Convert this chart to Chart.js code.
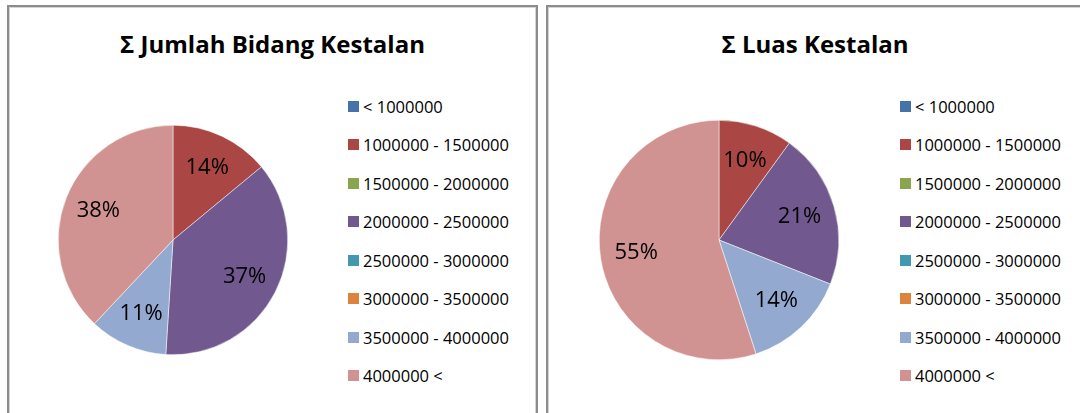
<!DOCTYPE html>
<html>
<head>
<meta charset="utf-8">
<script src="https://cdn.jsdelivr.net/npm/chart.js@4.4.1/dist/chart.umd.min.js"></script>
<style>
body { margin:0; width:1080px; height:413px; overflow:hidden; background:#fff; position:relative; font-family:'Open Sans', sans-serif; }
.panel { position:absolute; top:5px; height:440px; box-sizing:border-box; border:2px solid #8c8c8c; box-shadow:inset 0 0 0 1px #d4d4d4; }
#panelLeft { left:7px; width:531px; }
#panelRight { left:546px; width:538px; }
.title { position:absolute; left:0; right:0; top:25px; text-align:center; font-weight:700; font-size:24px; line-height:24px; color:#000; }
.legend { position:absolute; top:79.75px; }
.legend div { height:38.5px; display:flex; align-items:center; font-size:16.5px; color:#000; white-space:nowrap; }
.legend span { display:inline-block; width:11px; height:11px; margin-right:4px; }
canvas { position:absolute; top:103px; }
</style>
</head>
<body>
<div class="panel" id="panelLeft">
  <div class="title">&Sigma; Jumlah Bidang Kestalan</div>
  <canvas id="pieLeft" width="260" height="260" style="left:34px"></canvas>
  <div class="legend" id="legendLeft" style="left:339px"></div>
</div>
<div class="panel" id="panelRight">
  <div class="title">&Sigma; Luas Kestalan</div>
  <canvas id="pieRight" width="260" height="260" style="left:41px"></canvas>
  <div class="legend" id="legendRight" style="left:352px"></div>
</div>
<script>
'use strict'
var categories = [
    '< 1000000',
    '1000000 - 1500000',
    '1500000 - 2000000',
    '2000000 - 2500000',
    '2500000 - 3000000',
    '3000000 - 3500000',
    '3500000 - 4000000',
    '4000000 <'
];
var jumlahBidang = [0, 14, 0, 37, 0, 0, 11, 38];
var luasKestalan = [0, 10, 0, 21, 0, 0, 14, 55];

var colors = ['#4572A7', '#AA4643', '#89A54E', '#71588F', '#4198AF', '#DB843D', '#93A9CF', '#D19392'];

// percent labels inside the slices
var pctLabels = {
    id: 'pctLabels',
    afterDatasetsDraw: function(chart) {
        var ctx = chart.ctx;
        var meta = chart.getDatasetMeta(0);
        var values = chart.data.datasets[0].data;
        var total = values.reduce(function(a, b) { return a + b; }, 0);
        ctx.save();
        ctx.font = '22px "Open Sans"';
        ctx.fillStyle = '#000';
        ctx.textAlign = 'center';
        ctx.textBaseline = 'middle';
        meta.data.forEach(function(arc, i) {
            if (!values[i]) return;
            var p = arc.getProps(['x', 'y', 'startAngle', 'endAngle', 'outerRadius'], true);
            var mid = (p.startAngle + p.endAngle) / 2;
            var r = p.outerRadius * 0.7;
            ctx.fillText(Math.round(values[i] / total * 100) + '%', p.x + Math.cos(mid) * r, p.y + Math.sin(mid) * r);
        });
        ctx.restore();
    }
};

function makePie(id, values, pad) {
    return new Chart(document.getElementById(id), {
        type: 'pie',
        data: {
            labels: categories,
            datasets: [{
                data: values,
                backgroundColor: colors,
                borderColor: '#fff',
                borderWidth: 0.5
            }]
        },
        options: {
            responsive: false,
            animation: false,
            layout: { padding: pad },
            plugins: {
                legend: { display: false },
                tooltip: { enabled: false }
            }
        },
        plugins: [pctLabels]
    });
}

function makeLegend(id) {
    var box = document.getElementById(id);
    categories.forEach(function(label, i) {
        var row = document.createElement('div');
        var sq = document.createElement('span');
        sq.style.background = colors[i];
        row.appendChild(sq);
        row.appendChild(document.createTextNode(label));
        box.appendChild(row);
    });
}

makePie('pieLeft', jumlahBidang, 15);
makePie('pieRight', luasKestalan, 10);
makeLegend('legendLeft');
makeLegend('legendRight');
</script>
</body>
</html>
